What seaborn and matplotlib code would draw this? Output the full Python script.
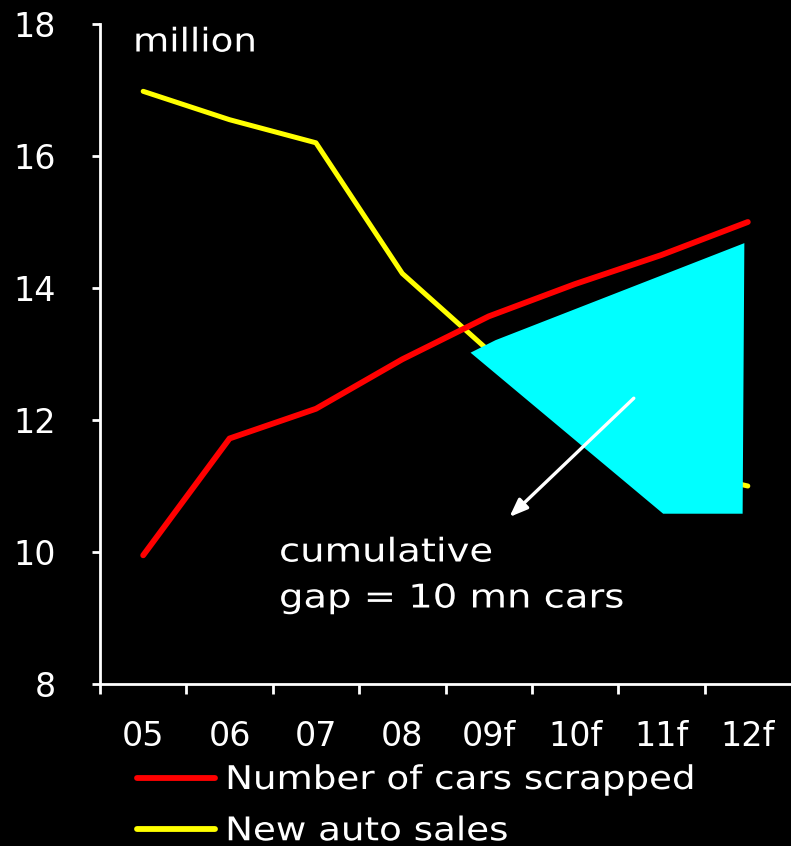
import numpy as np
import pandas as pd
import matplotlib
matplotlib.use("Agg")
import matplotlib.pyplot as plt
from matplotlib.patches import Polygon
from matplotlib.lines import Line2D
from matplotlib.patheffects import AbstractPathEffect
from matplotlib.transforms import Affine2D
import seaborn as sns

# Years (f = forecast) and the two series, in millions of cars
years = ["05", "06", "07", "08", "09f", "10f", "11f", "12f"]
cars_scrapped = [9.95, 11.72, 12.17, 12.92, 13.57, 14.06, 14.50, 15.00]
new_auto_sales = [16.98, 16.55, 16.20, 14.22, 13.05, 12.00, 11.30, 11.00]

# Shaded "gap" highlight (category index, million)
gap_shape_x = [3.79, 4.08, 6.96, 6.94, 6.02]
gap_shape_y = [13.02, 13.21, 14.68, 10.58, 10.58]


class WideText(AbstractPathEffect):
    """Draw text glyphs widened horizontally about the text origin."""

    def __init__(self, sx):
        super().__init__()
        self.sx = sx

    def draw_path(self, renderer, gc, tpath, affine, rgbFace=None):
        renderer.draw_path(gc, tpath, Affine2D().scale(self.sx, 1.0) + affine, rgbFace)


sns.set_theme(style="white")
plt.rcParams["font.family"] = ["DejaVu Sans"]

df = pd.DataFrame({
    "pos": list(range(len(years))) * 2,
    "value": cars_scrapped + new_auto_sales,
    "series": ["Number of cars scrapped"] * len(years) + ["New auto sales"] * len(years),
})

fig = plt.figure(figsize=(7.91, 8.46), dpi=100, facecolor="black")
ax = fig.add_axes([100 / 791, 1 - 684 / 846, 1 - 100 / 791, (684 - 24) / 846])
ax.set_facecolor("black")

sns.lineplot(data=df[df.series == "New auto sales"], x="pos", y="value",
             color="#ffff00", linewidth=3.6, ax=ax, zorder=2, legend=False)
sns.lineplot(data=df[df.series == "Number of cars scrapped"], x="pos", y="value",
             color="#ff0000", linewidth=4.2, ax=ax, zorder=4, legend=False)
for ln in ax.lines:
    ln.set_solid_capstyle("round")
    ln.set_solid_joinstyle("round")

ax.add_patch(Polygon(np.column_stack([gap_shape_x, gap_shape_y]), closed=True,
                     facecolor="#00ffff", edgecolor="none", zorder=3))

ax.annotate("", xy=(4.24, 10.53), xytext=(5.68, 12.33),
            arrowprops=dict(arrowstyle="-|>,head_length=0.9,head_width=0.35",
                            color="white", lw=2.4, shrinkA=0, shrinkB=0),
            zorder=5)

ax.set_xlim(-0.5, len(years) - 0.5)
ax.set_ylim(8, 18)
ax.set_yticks(range(8, 19, 2))
ax.set_xticks(range(len(years)))
ax.set_xticklabels(years)
ax.set_xticks(np.arange(-0.5, len(years) - 0.5, 1.0), minor=True)
ax.set_xlabel("")
ax.set_ylabel("")

for side in ["top", "right"]:
    ax.spines[side].set_visible(False)
for side in ["left", "bottom"]:
    ax.spines[side].set_color("white")
    ax.spines[side].set_linewidth(2)

ax.tick_params(axis="y", which="major", direction="out", length=6, width=2,
               color="white", labelcolor="white", labelsize=24, pad=26, left=True)
ax.tick_params(axis="x", which="major", length=0, labelcolor="white",
               labelsize=24, pad=26)
ax.tick_params(axis="x", which="minor", direction="out", length=7, width=2,
               color="white", bottom=True)

wide = [WideText(1.14)]
ax.text(133 / 791, 1 - 42 / 846, "million", transform=fig.transFigure,
        color="white", fontsize=23.5, va="center", ha="left", path_effects=wide)
ax.text(279 / 791, 1 - 575 / 846, "cumulative\ngap = 10 mn cars",
        transform=fig.transFigure, color="white", fontsize=23.5,
        va="center", ha="left", linespacing=1.5,
        path_effects=[WideText(1.18)])

handles = [Line2D([0], [0], color="#ff0000", lw=4.2, solid_capstyle="round"),
           Line2D([0], [0], color="#ffff00", lw=4.2, solid_capstyle="round")]
leg = fig.legend(handles, ["Number of cars scrapped", "New auto sales"],
                 loc="upper left", bbox_to_anchor=(137 / 791, 1 - 763 / 846),
                 frameon=False, fontsize=23.5, labelcolor="white",
                 handlelength=2.4, handletextpad=0.3, labelspacing=0.56,
                 borderaxespad=0, borderpad=0)
for t in leg.get_texts():
    t.set_path_effects(wide)

fig.savefig("out.png", dpi=100, facecolor="black")
